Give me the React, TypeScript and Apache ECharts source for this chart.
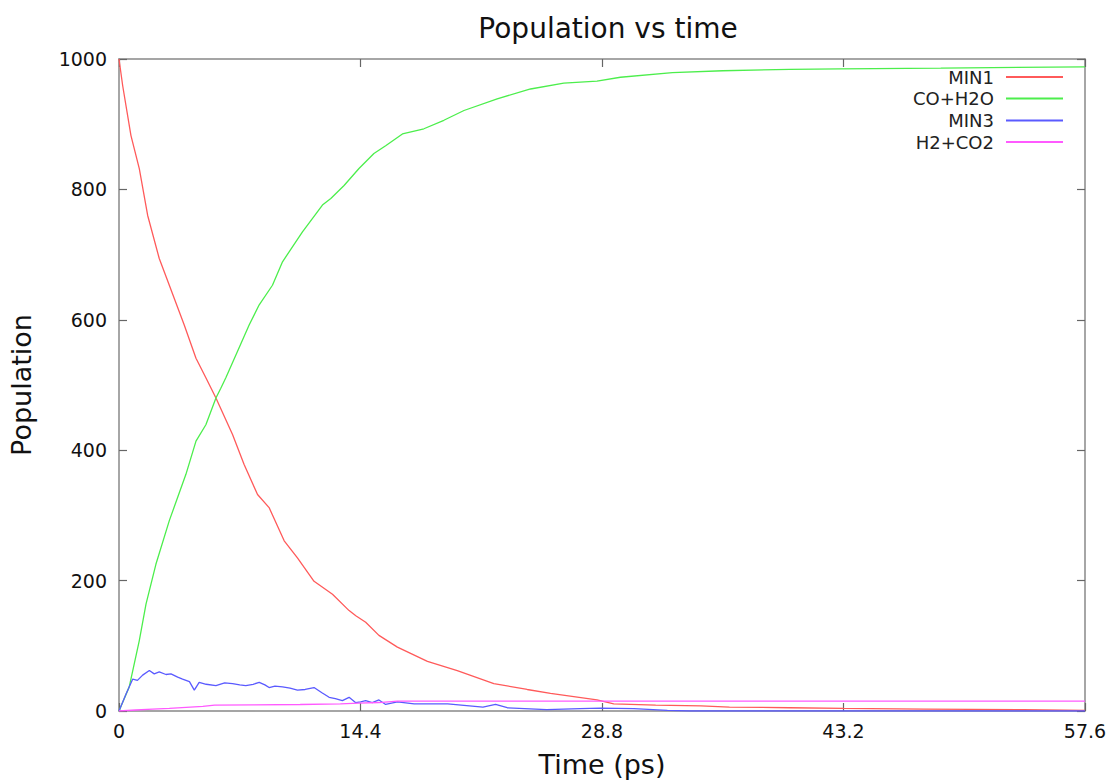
import React, { useEffect, useRef } from "react";
import * as echarts from "echarts";

// ---- data ----
const seriesNames = ["MIN1", "CO+H2O", "MIN3", "H2+CO2"];
const xTicks = [0, 14.4, 28.8, 43.2, 57.6];
const yTicks = [0, 200, 400, 600, 800, 1000];

const min1Time = [0, 0.22, 0.71, 1.21, 1.71, 2.4, 3.0, 3.89, 4.59, 5.18, 5.78, 6.77, 7.46, 8.26, 8.95, 9.85, 10.64, 11.63, 12.73, 13.72, 14.12, 14.71, 15.5, 16.6, 18.39, 20.17, 22.35, 24.34, 25.73, 28.5, 29.5, 32, 34.7, 36.4, 40, 43.2, 48, 53.9, 57.6];
const min1Pop = [1000, 959, 883, 832, 760, 694, 653, 592, 541, 511, 480, 424, 378, 332, 312, 261, 235, 199, 179, 154, 146, 136, 116, 98, 76, 62, 42, 33, 27, 17, 11, 9, 8, 6, 5, 4, 3, 2, 1];

const coh2oTime = [0, 0.61, 1.21, 1.61, 2.2, 3.0, 3.99, 4.59, 5.18, 5.78, 6.07, 6.37, 6.97, 7.76, 8.36, 9.15, 9.75, 10.94, 12.13, 12.63, 13.42, 14.31, 15.2, 15.9, 16.9, 18.18, 19.37, 20.57, 22.55, 24.54, 26.52, 28.5, 29.9, 33.0, 36, 40, 43, 49, 57.6];
const coh2oPop = [0, 37, 108, 164, 225, 292, 363, 414, 439, 480, 495, 511, 546, 592, 623, 653, 689, 735, 776, 786, 806, 832, 855, 867, 885, 893, 906, 921, 939, 954, 963, 966, 972, 979, 982, 984, 985, 986, 988];

const min3Time = [0, 0.42, 0.82, 1.1, 1.41, 1.81, 2.1, 2.4, 2.8, 3.1, 3.5, 3.79, 4.2, 4.49, 4.78, 5.2, 5.78, 6.3, 6.77, 7.2, 7.56, 8.0, 8.36, 8.7, 8.95, 9.3, 9.75, 10.2, 10.64, 11.1, 11.63, 12.1, 12.53, 12.9, 13.32, 13.72, 14.1, 14.41, 14.71, 15.1, 15.5, 15.9, 16.6, 17.6, 19.6, 21.7, 22.45, 23.15, 25.5, 27.5, 28.7, 30.7, 32.7, 34, 57.6];
const min3Pop = [0, 26, 49, 47, 55, 62, 57, 60, 56, 57, 52, 49, 45, 32, 44, 41, 39, 43, 42, 40, 39, 41, 44, 40, 36, 38, 37, 35, 32, 33, 36, 28, 21, 19, 16, 21, 13, 14, 16, 13, 17, 10, 14, 11, 11, 6, 10, 5, 2, 3.5, 4.5, 3.5, 1, 0, 0];

const h2co2Time = [0, 1, 2, 3, 4, 5, 5.7, 8, 10.8, 13.2, 14.3, 15.5, 16.6, 20, 57.6];
const h2co2Pop = [0, 1.5, 3, 4, 5.5, 7, 9, 9.5, 10, 11, 12, 13, 15, 15, 15];

const colors = ["#ff5a5a", "#4cee4c", "#5a5aff", "#ff5aff"];

const pairs = (t: number[], v: number[]) => t.map((x, i) => [x, v[i]]);

export default function App() {
  const ref = useRef<HTMLDivElement>(null);
  useEffect(() => {
    if (!ref.current) return;
    const chart = echarts.init(ref.current, undefined, { renderer: "svg" });
    const font = "DejaVu Sans";
    const axisLine = { show: true, onZero: false, lineStyle: { color: "#888", width: 1.5 } };
    const tick = { show: true, inside: true, length: 8, lineStyle: { color: "#666", width: 1.2 } };
    const fmt = (v: number) => String(Math.round(v * 10) / 10);
    const dataSets = [
      pairs(min1Time, min1Pop),
      pairs(coh2oTime, coh2oPop),
      pairs(min3Time, min3Pop),
      pairs(h2co2Time, h2co2Pop),
    ];
    const rowCenters = [79, 100.5, 122.5, 144];
    chart.setOption({
      animation: false,
      textStyle: { fontFamily: font },
      title: {
        text: "Population vs time",
        left: 603,
        textAlign: "center",
        top: 9,
        textStyle: { fontSize: 28, fontWeight: "normal", color: "#111", fontFamily: font },
      },
      legend: seriesNames.map((n, i) => ({
        data: [n],
        right: 47,
        top: rowCenters[i] - 11,
        padding: 0,
        align: "right",
        orient: "vertical",
        icon: "rect",
        itemWidth: 57,
        itemHeight: 2,
        selectedMode: false,
        textStyle: { fontSize: 18, color: "#222", fontFamily: font, padding: [0, 7, 0, 0] },
      })),
      grid: { left: 118, right: 25, top: 59, bottom: 70, containLabel: false },
      xAxis: [
        {
          type: "value",
          min: xTicks[0],
          max: xTicks[xTicks.length - 1],
          interval: 14.4,
          position: "bottom",
          name: "Time (ps)",
          nameLocation: "middle",
          nameGap: 40,
          nameTextStyle: { fontSize: 27, color: "#111", fontFamily: font },
          axisLine,
          axisTick: tick,
          splitLine: { show: false },
          axisLabel: { fontSize: 19, color: "#111", margin: 10, formatter: fmt, showMaxLabel: true, showMinLabel: true },
        },
        {
          type: "value",
          min: xTicks[0],
          max: xTicks[xTicks.length - 1],
          interval: 14.4,
          position: "top",
          axisLine,
          axisTick: tick,
          splitLine: { show: false },
          axisLabel: { show: false },
        },
      ],
      yAxis: [
        {
          type: "value",
          min: yTicks[0],
          max: yTicks[yTicks.length - 1],
          interval: 200,
          position: "left",
          name: "Population",
          nameLocation: "middle",
          nameGap: 84,
          nameRotate: 90,
          nameTextStyle: { fontSize: 27, color: "#111", fontFamily: font },
          axisLine,
          axisTick: tick,
          splitLine: { show: false },
          axisLabel: { fontSize: 19, color: "#111", margin: 12, formatter: (v: number) => String(v) },
        },
        {
          type: "value",
          min: yTicks[0],
          max: yTicks[yTicks.length - 1],
          interval: 200,
          position: "right",
          axisLine,
          axisTick: tick,
          splitLine: { show: false },
          axisLabel: { show: false },
        },
      ],
      series: seriesNames.map((n, i) => ({
        name: n,
        type: "line",
        xAxisIndex: 0,
        yAxisIndex: 0,
        data: dataSets[i],
        showSymbol: false,
        symbol: "none",
        color: colors[i],
        lineStyle: { width: 1.3, color: colors[i] },
        z: 2,
      })),
    });
    return () => chart.dispose();
  }, []);
  return (
    <div
      ref={ref}
      style={{ position: "absolute", left: 0, top: 0, width: 1110, height: 783, background: "#fff" }}
    />
  );
}
